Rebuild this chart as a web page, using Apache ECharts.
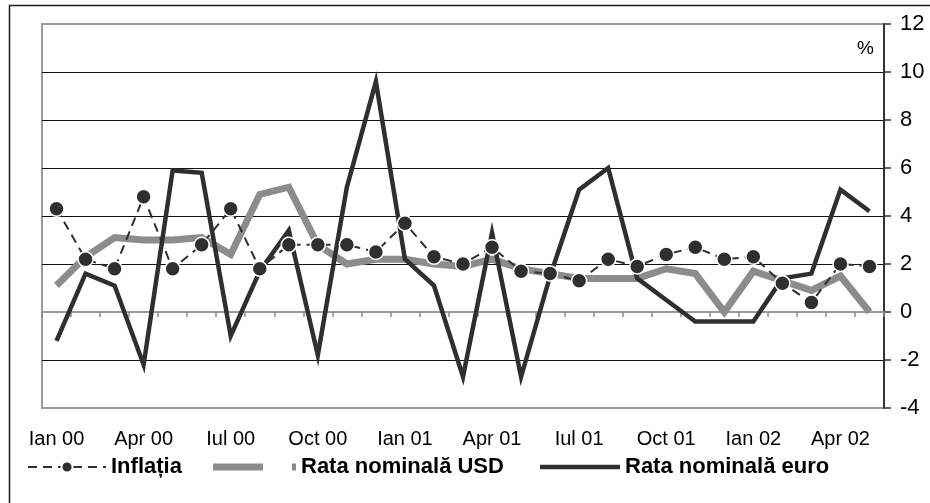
<!DOCTYPE html>
<html>
<head>
<meta charset="utf-8">
<script src="https://cdn.jsdelivr.net/npm/echarts@6/dist/echarts.min.js"></script>
<style>
  html, body { margin: 0; padding: 0; background: #ffffff; }
  #chart { width: 930px; height: 503px; }
</style>
</head>
<body>
<div id="chart"></div>
<script>
// Monthly categories, Jan 2000 – May 2002
const months = [
  'Ian 00','Feb 00','Mar 00','Apr 00','Mai 00','Iun 00','Iul 00','Aug 00','Sep 00','Oct 00','Nov 00','Dec 00',
  'Ian 01','Feb 01','Mar 01','Apr 01','Mai 01','Iun 01','Iul 01','Aug 01','Sep 01','Oct 01','Nov 01','Dec 01',
  'Ian 02','Feb 02','Mar 02','Apr 02','Mai 02'
];

// Monthly rates, %
const inflatia = [4.3, 2.2, 1.8, 4.8, 1.8, 2.8, 4.3, 1.8, 2.8, 2.8, 2.8, 2.5,
                  3.7, 2.3, 2.0, 2.7, 1.7, 1.6, 1.3, 2.2, 1.9, 2.4, 2.7, 2.2,
                  2.3, 1.2, 0.4, 2.0, 1.9];
const rataUSD = [1.1, 2.3, 3.1, 3.0, 3.0, 3.1, 2.4, 4.9, 5.2, 2.8, 2.0, 2.2,
                 2.2, 2.0, 1.9, 2.2, 1.8, 1.6, 1.4, 1.4, 1.4, 1.8, 1.6, 0.0,
                 1.7, 1.3, 0.9, 1.5, 0.0];
const rataEuro = [-1.2, 1.6, 1.1, -2.2, 5.9, 5.8, -1.0, 1.7, 3.4, -1.8, 5.2, 9.6,
                  2.2, 1.1, -2.7, 3.3, -2.7, 1.5, 5.1, 6.0, 1.4, 0.5, -0.4, -0.4,
                  -0.4, 1.4, 1.6, 5.1, 4.2];

const yTicks = [-4, -2, 0, 2, 4, 6, 8, 10, 12];

const FONT = '"Liberation Sans", Arial, sans-serif';
const DARK = '#2f2f2f';
const GREY = '#8c8c8c';

const chart = echarts.init(document.getElementById('chart'), null, { renderer: 'canvas' });

// grid lines: hide the ones lying on the plot frame (min and max)
const splitColors = yTicks.map((v, i) => (i === 0 || i === yTicks.length - 1) ? 'rgba(0,0,0,0)' : '#111');

const legendText = { fontFamily: FONT, fontSize: 22, fontWeight: 'bold', color: '#000' };

chart.setOption({
  animation: false,
  backgroundColor: '#ffffff',
  textStyle: { fontFamily: FONT },
  graphic: [{
    type: 'rect',
    silent: true,
    z: -10,
    shape: { x: 9.5, y: 5.5, width: 940, height: 520 },
    style: { fill: 'none', stroke: '#1a1a1a', lineWidth: 1.5 }
  }],
  grid: {
    left: 42, right: 46, top: 24, bottom: 95,
    show: true, borderColor: '#9a9a9a', borderWidth: 2, backgroundColor: '#fff'
  },
  legend: [
    {
      left: 27, top: 456, padding: 0, itemWidth: 78, itemHeight: 14,
      textStyle: legendText,
      data: ['Inflația']
    },
    {
      left: 213, top: 456, padding: 0, itemWidth: 83, itemHeight: 7,
      textStyle: legendText,
      data: [{ name: 'Rata nominală USD', icon: 'path://M0,0H50V7H0Z M79,0H83V7H79Z' }]
    },
    {
      left: 540, top: 456, padding: 0, itemWidth: 80, itemHeight: 4.5,
      textStyle: legendText,
      data: [{ name: 'Rata nominală euro', icon: 'rect' }]
    }
  ],
  xAxis: {
    type: 'category',
    data: months,
    boundaryGap: true,
    axisLine: { show: true, lineStyle: { color: '#9a9a9a', width: 2 } },
    axisTick: { show: true, interval: 0, length: 5, lineStyle: { color: '#8a8a8a', width: 1.5 } },
    axisLabel: { interval: 2, margin: 21, color: '#000', fontSize: 20, fontFamily: FONT },
    splitLine: { show: false }
  },
  yAxis: {
    type: 'value',
    position: 'right',
    min: yTicks[0], max: yTicks[yTicks.length - 1], interval: 2,
    name: '%',
    nameLocation: 'end',
    nameGap: -25,
    nameTextStyle: { color: '#000', fontSize: 19, fontFamily: FONT, align: 'right', verticalAlign: 'middle', padding: [0, 10, 0, 0] },
    axisLine: { show: true, lineStyle: { color: '#333', width: 2 } },
    axisTick: { show: true, length: 7, lineStyle: { color: '#333', width: 1.5 } },
    axisLabel: { margin: 16, color: '#000', fontSize: 22, fontFamily: FONT },
    splitLine: { show: true, lineStyle: { color: splitColors, width: 1 } }
  },
  series: [
    {
      name: 'Rata nominală USD',
      type: 'line',
      data: rataUSD,
      symbol: 'none',
      color: GREY,
      lineStyle: { color: GREY, width: 7, join: 'miter' },
      z: 2
    },
    {
      name: 'Rata nominală euro',
      type: 'line',
      data: rataEuro,
      symbol: 'none',
      color: DARK,
      lineStyle: { color: DARK, width: 4.5, join: 'miter' },
      z: 3
    },
    {
      name: 'Inflația',
      type: 'line',
      data: inflatia,
      symbol: 'circle',
      symbolSize: 15,
      color: DARK,
      itemStyle: { color: DARK, borderColor: '#fff', borderWidth: 1.5 },
      lineStyle: { color: DARK, width: 2, type: [9, 6] },
      z: 4
    }
  ]
});
</script>
</body>
</html>
